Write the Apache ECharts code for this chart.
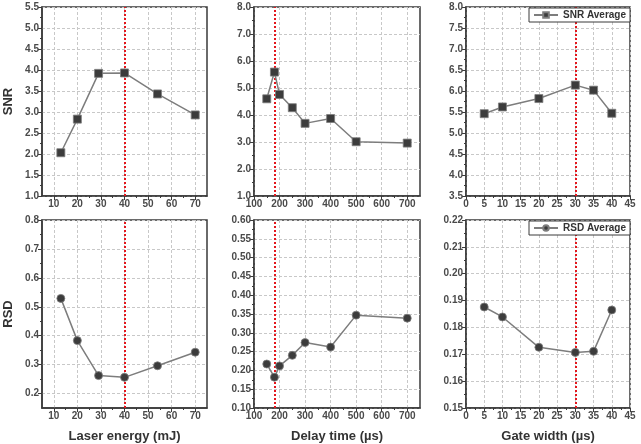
<!DOCTYPE html>
<html lang="en">
<head>
    <meta charset="UTF-8">
    <title>SNR / RSD</title>
    <script src="https://cdn.jsdelivr.net/npm/echarts@6.0.0/dist/echarts.min.js"></script>
    <style>
        html, body { margin: 0; padding: 0; background: #fff; }
        #chart { width: 641px; height: 444px; }
    </style>
</head>
<body>
    <div id="chart"></div>

    <script>
    // values
    const energy = [13, 20, 29, 40, 54, 70];
    const energySnr = [2.03, 2.83, 3.92, 3.93, 3.43, 2.93];
    const energyRsd = [0.529, 0.383, 0.262, 0.256, 0.296, 0.343];

    const delay = [150, 180, 200, 250, 300, 400, 500, 700];
    const delaySnr = [4.60, 5.59, 4.76, 4.27, 3.69, 3.87, 3.01, 2.96];
    const delayRsd = [0.217, 0.182, 0.212, 0.240, 0.274, 0.262, 0.347, 0.339];

    const gate = [5, 10, 20, 30, 35, 40];
    const gateSnr = [5.46, 5.62, 5.82, 6.14, 6.02, 5.47];
    const gateRsd = [0.1876, 0.1839, 0.1726, 0.1707, 0.1711, 0.1865];

    const optimum = [40, 180, 30];

    // tick labels
    const energyTicks = [10, 20, 30, 40, 50, 60, 70];
    const delayTicks = [100, 200, 300, 400, 500, 600, 700];
    const gateTicks = [0, 5, 10, 15, 20, 25, 30, 35, 40, 45];
    const snrEnergyTicks = [1.0, 1.5, 2.0, 2.5, 3.0, 3.5, 4.0, 4.5, 5.0, 5.5];
    const snrDelayTicks = [1, 2, 3, 4, 5, 6, 7, 8];
    const snrGateTicks = [3.5, 4.0, 4.5, 5.0, 5.5, 6.0, 6.5, 7.0, 7.5, 8.0];
    const rsdEnergyTicks = [0.2, 0.3, 0.4, 0.5, 0.6, 0.7, 0.8];
    const rsdDelayTicks = [0.10, 0.15, 0.20, 0.25, 0.30, 0.35, 0.40, 0.45, 0.50, 0.55, 0.60];
    const rsdGateTicks = [0.15, 0.16, 0.17, 0.18, 0.19, 0.20, 0.21, 0.22];

    const dark = '#3a3a3a';
    const cols = [{ left: 42, width: 165 }, { left: 254, width: 166 }, { left: 466, width: 164 }];
    const rows = [{ top: 7, height: 189 }, { top: 220, height: 189 }];

    function midpoints(t) {
        const out = [];
        for (let i = 0; i < t.length - 1; i++) out.push((t[i] + t[i + 1]) / 2);
        return out;
    }

    function zip(xs, ys) {
        return xs.map((x, i) => [x, ys[i]]);
    }

    const panels = [
        { x: energy, y: energySnr, xr: [5, 75], yr: [1, 5.5], xt: energyTicks, yt: snrEnergyTicks, yd: 1, sym: 'rect', yName: 'SNR', name: 'e-snr' },
        { x: delay, y: delaySnr, xr: [100, 750], yr: [1, 8], xt: delayTicks, yt: snrDelayTicks, yd: 1, sym: 'rect', name: 'd-snr' },
        { x: gate, y: gateSnr, xr: [0, 45], yr: [3.5, 8], xt: gateTicks, yt: snrGateTicks, yd: 1, sym: 'rect', name: 'SNR Average' },
        { x: energy, y: energyRsd, xr: [5, 75], yr: [0.15, 0.8], xt: energyTicks, yt: rsdEnergyTicks, yd: 1, sym: 'circle', yName: 'RSD', xName: 'Laser energy (mJ)', name: 'e-rsd' },
        { x: delay, y: delayRsd, xr: [100, 750], yr: [0.1, 0.6], xt: delayTicks, yt: rsdDelayTicks, yd: 2, sym: 'circle', xName: 'Delay time (\u00b5s)', name: 'd-rsd' },
        { x: gate, y: gateRsd, xr: [0, 45], yr: [0.15, 0.22], xt: gateTicks, yt: rsdGateTicks, yd: 2, sym: 'circle', xName: 'Gate width (\u00b5s)', name: 'RSD Average' }
    ];

    const grid = [], xAxis = [], yAxis = [], series = [];

    panels.forEach((p, i) => {
        const c = cols[i % 3], r = rows[Math.floor(i / 3)];
        grid.push({
            left: c.left, width: c.width, top: r.top, height: r.height,
            show: true, borderColor: dark, borderWidth: 1.5
        });

        const nameStyle = { fontFamily: 'Liberation Sans', fontSize: 13, fontWeight: 'bold', color: '#333' };
        const labelStyle = { fontFamily: 'Liberation Sans', fontSize: 10, fontWeight: 'bold', color: '#4a4a4a' };

        xAxis.push({
            type: 'value', gridIndex: i, position: 'bottom', min: p.xr[0], max: p.xr[1],
            name: p.xName || '', nameLocation: 'middle', nameGap: 22, nameTextStyle: nameStyle,
            axisLine: { onZero: false, lineStyle: { color: dark, width: 1.5 } },
            axisTick: { inside: false, length: 4, customValues: p.xt, lineStyle: { color: dark } },
            axisLabel: Object.assign({ customValues: p.xt, margin: 3, formatter: v => String(v) }, labelStyle),
            splitLine: { show: true, lineStyle: { color: '#c8c8c8', type: [3, 2], width: 1 } }
        });
        xAxis.push({
            type: 'value', gridIndex: i, position: 'bottom', min: p.xr[0], max: p.xr[1],
            axisLine: { show: false },
            axisTick: { inside: false, length: 2, customValues: midpoints(p.xt), lineStyle: { color: dark } },
            axisLabel: { show: false },
            splitLine: { show: false }
        });

        yAxis.push({
            type: 'value', gridIndex: i, position: 'left', min: p.yr[0], max: p.yr[1],
            name: p.yName || '', nameLocation: 'middle', nameGap: 27, nameTextStyle: nameStyle,
            axisLine: { onZero: false, lineStyle: { color: dark, width: 1.5 } },
            axisTick: { inside: false, length: 4, customValues: p.yt, lineStyle: { color: dark } },
            axisLabel: Object.assign({ customValues: p.yt, margin: 3, formatter: v => v.toFixed(p.yd) }, labelStyle),
            splitLine: { show: true, lineStyle: { color: '#c8c8c8', type: [3, 2], width: 1 } }
        });
        yAxis.push({
            type: 'value', gridIndex: i, position: 'left', min: p.yr[0], max: p.yr[1],
            axisLine: { show: false },
            axisTick: { inside: false, length: 2, customValues: midpoints(p.yt), lineStyle: { color: dark } },
            axisLabel: { show: false },
            splitLine: { show: false }
        });

        series.push({
            name: p.name, type: 'line', xAxisIndex: i * 2, yAxisIndex: i * 2,
            data: zip(p.x, p.y),
            symbol: p.sym, symbolSize: 8,
            lineStyle: { color: '#7d7d7d', width: 1.5 },
            itemStyle: { color: '#3c3c3c', borderColor: '#7d7d7d', borderWidth: 0.8 },
            z: 3,
            markLine: {
                silent: true, symbol: 'none', label: { show: false }, z: 1,
                lineStyle: { color: '#e3171d', type: [2, 2], width: 2 },
                data: [{ xAxis: optimum[i % 3] }]
            }
        });
    });

    function legendFor(name, top) {
        return {
            data: [name], right: 11, top: top, orient: 'horizontal',
            backgroundColor: '#fff', borderColor: dark, borderWidth: 1,
            padding: [2, 4], itemWidth: 24, itemHeight: 7, itemGap: 4,
            textStyle: { fontFamily: 'Liberation Sans', fontSize: 10, fontWeight: 'bold', color: '#333' }
        };
    }

    const chart = echarts.init(document.getElementById('chart'));
    chart.setOption({
        animation: false,
        legend: [legendFor('SNR Average', 8), legendFor('RSD Average', 221)],
        grid: grid,
        xAxis: xAxis,
        yAxis: yAxis,
        series: series
    });
    </script>
</body>
</html>
